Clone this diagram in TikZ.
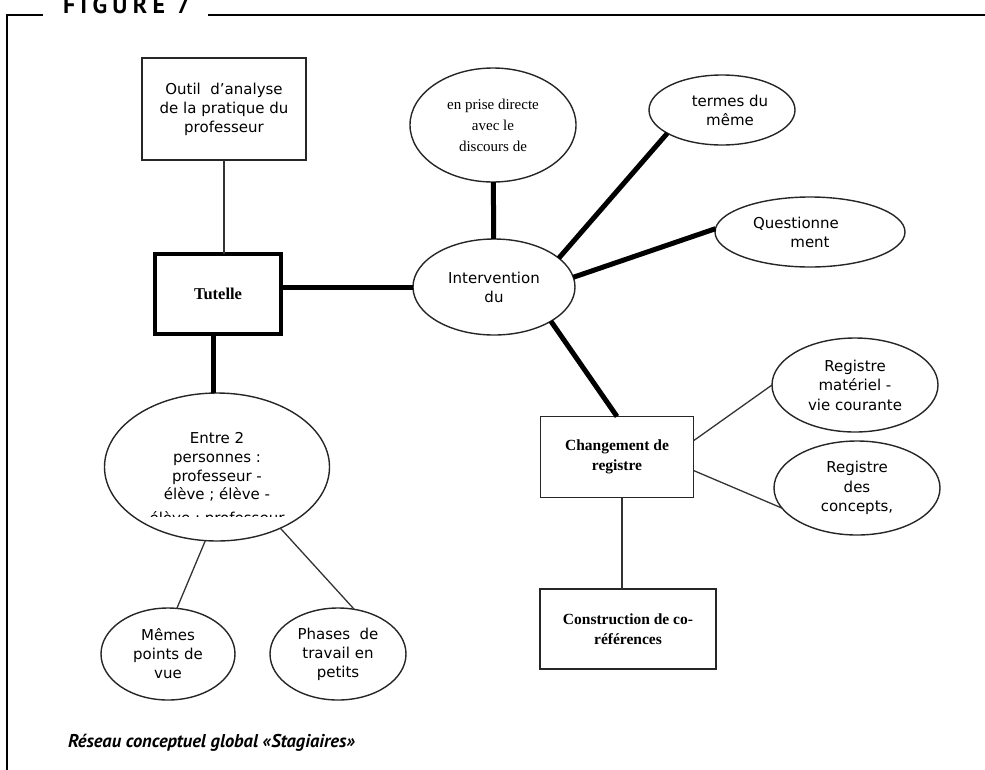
\documentclass[tikz,border=0pt]{standalone}
\usepackage{fontspec}
\setmainfont{DejaVu Sans}
\newfontfamily\rmbox{Liberation Serif}
\newfontfamily\headfont{PT Sans}
\usetikzlibrary{shapes.geometric}

\begin{document}
\begin{tikzpicture}[x=1pt,y=-1pt,
  every node/.style={inner sep=0pt, outer sep=0pt},
  thinlink/.style={line width=1.3pt, draw=black!80},
  thicklink/.style={line width=5pt, draw=black},
  oval/.style={ellipse, draw=black!85, line width=1.4pt, align=center,
    font=\fontsize{15}{19}\selectfont},
  box/.style={rectangle, draw=black!85, line width=1.4pt, align=center,
    font=\fontsize{15}{19}\selectfont},
  heavybox/.style={rectangle, draw=black, line width=4pt, align=center},
  boldserif/.style={font=\rmbox\bfseries\fontsize{15.5}{20}\selectfont},
]
\useasboundingbox (0,0) rectangle (985,769);

% frame with the figure heading
\draw[line width=1.5pt] (43,15) -- (7,15) -- (7,775);
\draw[line width=1.5pt] (208,15) -- (990,15);
\node[anchor=base west] (heading) at (63,13)
  {\headfont\bfseries\addfontfeature{LetterSpace=22}\fontsize{24}{24}\selectfont FIGURE 7};

% concept nodes
\node[box, minimum width=164, minimum height=102] (outil) at (224,109)
  {Outil\ \ d’analyse\\de la pratique du\\professeur};
\node[heavybox, font=\rmbox\bfseries\fontsize{16.5}{20}\selectfont, minimum width=126, minimum height=80] (tutelle) at (218,294) {Tutelle};
\node[oval, minimum width=162, minimum height=96] (interv) at (494,287) {Intervention\\du};
\node[oval, font=\rmbox\fontsize{15}{21}\selectfont, minimum width=166, minimum height=114] (prise) at (493,125)
  {en prise directe\\avec le\\discours de};
\node[oval, minimum width=146, minimum height=70] (termes) at (722,110) {\hspace*{16pt}termes du\\\hspace*{16pt}même};
\node[oval, minimum width=190, minimum height=70] (question) at (810,232) {Questionne\hspace*{28pt}\\ment};
\node[box, boldserif, minimum width=153, minimum height=81] (chg) at (617,457) {Changement de\\registre};
\node[oval, font=\fontsize{15}{19.5}\selectfont, minimum width=166, minimum height=94] (regmat) at (855,385)
  {Registre\\matériel -\\vie courante};
\node[oval, font=\fontsize{15}{19.5}\selectfont, minimum width=166, minimum height=94] (regcon) at (857,488)
  {Registre\\des\\concepts,};
\node[box, boldserif, minimum width=176, minimum height=80] (constr) at (628,629)
  {Construction de co-\\références};
\node[oval, font=\fontsize{15}{18.7}\selectfont, minimum width=225, minimum height=148] (entre) at (217,467)
  {Entre 2\\personnes :\\professeur -\\élève ; élève -};
\begin{scope}
  \clip (100,505) rectangle (340,516);
  \node[font=\fontsize{15}{19}\selectfont] (entrerest) at (217,519) {élève ; professeur};
\end{scope}
\node[oval, minimum width=134, minimum height=92] (memes) at (168,654) {Mêmes\\points de\\vue};
\node[oval, minimum width=136, minimum height=92] (phases) at (338,654) {Phases\ \ de\\travail en\\petits};

% links
\draw[thinlink] (outil.south) -- (outil.south |- tutelle.north);
\draw[thicklink] (interv.west -| tutelle.east) -- (interv.west);
\draw[thicklink] (prise) -- (interv);
\draw[thicklink] (interv.24) -- (termes.203);
\draw[thicklink] (interv.7) -- (question.178);
\draw[thicklink] (interv.329) -- (chg.north);
\draw[thinlink] (chg.12) -- (regmat.180);
\draw[thinlink] (chg.-10) -- (regcon.195);
\draw[thinlink] ([xshift=5pt]chg.south) -- ([xshift=5pt]chg.south |- constr.north);
\draw[thicklink] ([xshift=-5pt]tutelle.south) -- ([xshift=-5pt]tutelle.south |- entre.north);
\draw[thinlink] (entre.261) -- (memes.79);
\draw[thinlink] (entre.316) -- (phases.70);

% caption
\node[anchor=base west] (caption) at (68,747)
  {\headfont\bfseries\itshape\fontsize{18.5}{18.5}\selectfont Réseau conceptuel global «Stagiaires»};
\end{tikzpicture}
\end{document}
